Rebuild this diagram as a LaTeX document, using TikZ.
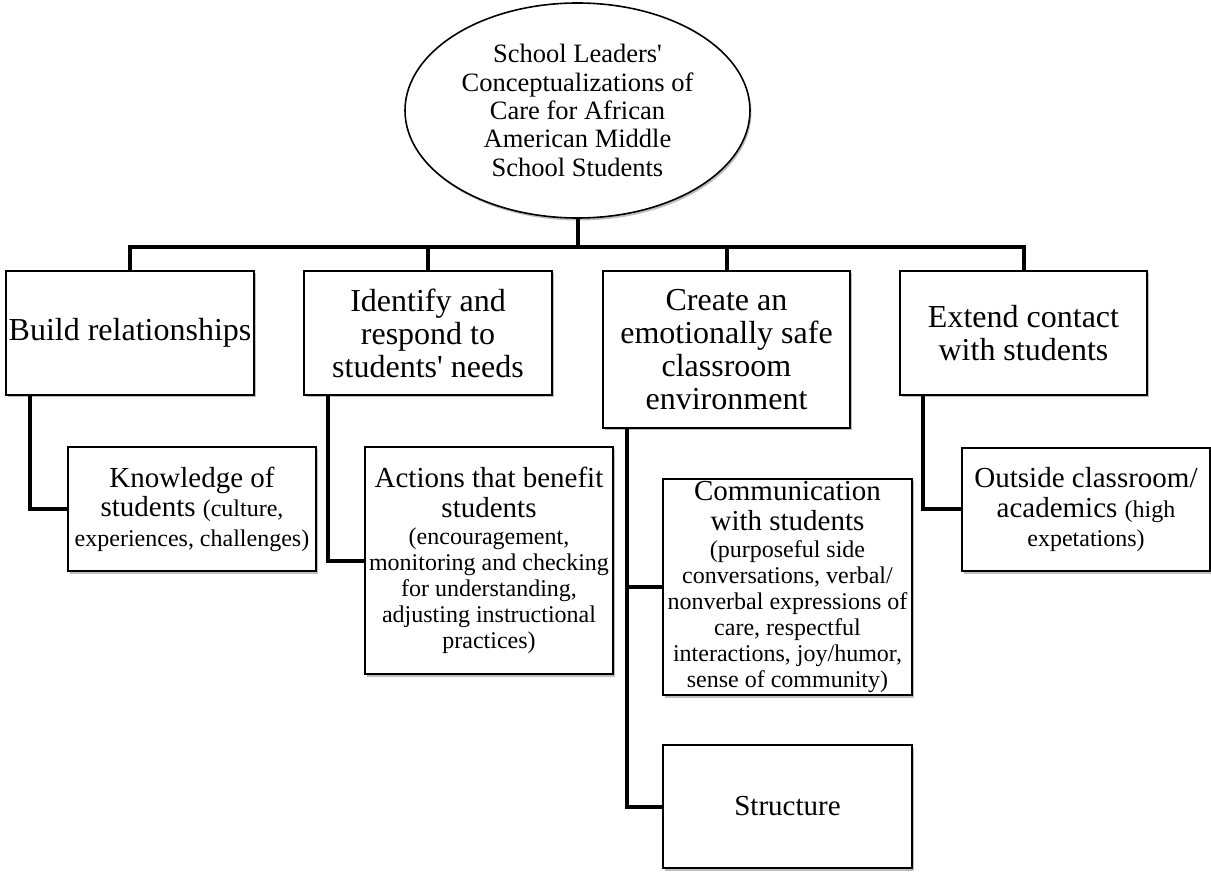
\documentclass[tikz,border=0pt]{standalone}
\usepackage{fontspec}
\setmainfont{Liberation Serif}[Ligatures=TeXOff]
\usetikzlibrary{shapes.geometric,shadows}
\newcommand\fmain{\fontsize{32}{33}\selectfont}
\newcommand\fsub{\fontsize{29}{29.5}\selectfont}
\newcommand\fsm{\fontsize{24}{26}\selectfont}
\newcommand\fell{\fontsize{26.5}{28.3}\selectfont}
\newcommand\tb[1]{\makebox[0pt][c]{\parbox{300pt}{\centering #1}}}
\begin{document}
\begin{tikzpicture}[x=1pt,y=-1pt,
  shad/.style={drop shadow={shadow xshift=1.5pt, shadow yshift=-2.5pt, opacity=0.25, fill=black}},
  box/.style={rectangle, draw=black, line width=1.6pt, fill=white, inner sep=0pt, minimum width=248pt, shad},
  ell/.style={ellipse, draw=black, line width=1.6pt, fill=white, inner sep=0pt, minimum width=345pt, minimum height=215pt, shad},
  conn/.style={line width=4pt, draw=black}]
\useasboundingbox (0,0) rectangle (1211,874);

% root
\node[ell] (root) at (577.5,110.5) {\tb{\fell School Leaders'\\ Conceptualizations of\\ Care for African\\ American Middle\\ School Students}};

% main boxes
\node[box, minimum height=124pt] (b1) at (130,333) {\tb{\fmain Build relationships}};
\node[box, minimum height=124pt] (b2) at (428,333) {\tb{\fmain Identify and\\ respond to\\ students' needs}};
\node[box, minimum height=157pt, minimum width=247pt] (b3) at (726.5,349.5) {\tb{\fmain Create an\\ emotionally safe\\ classroom\\ environment}};
\node[box, minimum height=124pt, minimum width=247pt] (b4) at (1023.5,333) {\tb{\fmain Extend contact\\ with students}};

% sub boxes
\node[box, minimum height=124pt] (k) at (192,509) {\tb{\fsub Knowledge of\\ students {\fsm (culture,}\\ {\fsm experiences, challenges)}}};
\node[box, minimum height=227pt] (a) at (489,560.5) {\tb{{\fsub Actions that benefit\\ students\par}\vspace{1pt}{\fsm (encouragement,\\ monitoring and checking\\ for understanding,\\ adjusting instructional\\ practices)\par}}};
\node[box, minimum height=216pt, minimum width=249pt] (c) at (787.5,587) {\tb{{\fsub Communication\\ with students\par}\vspace{1pt}{\fsm (purposeful side\\ conversations, verbal/\\ nonverbal expressions of\\ care, respectful\\ interactions, joy/humor,\\ sense of community)\par}}};
\node[box, minimum height=123pt, minimum width=249pt] (s) at (787.5,806.5) {\tb{\fsub Structure}};
\node[box, minimum height=123pt] (o) at (1086,509.5) {\tb{\fsub Outside classroom/\\ academics {\fsm (high}\\ {\fsm expetations)}}};

% connectors
\coordinate (bar) at (577.5,247);
\draw[conn] (root.south) -- (bar);
\draw[conn] (b1.north) |- (bar);
\draw[conn] (b2.north) |- (bar);
\draw[conn] (b3.north) |- (bar);
\draw[conn] (b4.north) |- (bar);

\draw[conn] ([xshift=25pt]b1.south west) |- (k.west);
\draw[conn] ([xshift=25pt]b2.south west) |- (a.west);
\draw[conn] ([xshift=25pt]b3.south west) |- (c.west);
\draw[conn] ([xshift=25pt]b3.south west) |- (s.west);
\draw[conn] ([xshift=24pt]b4.south west) |- (o.west);
\end{tikzpicture}
\end{document}
